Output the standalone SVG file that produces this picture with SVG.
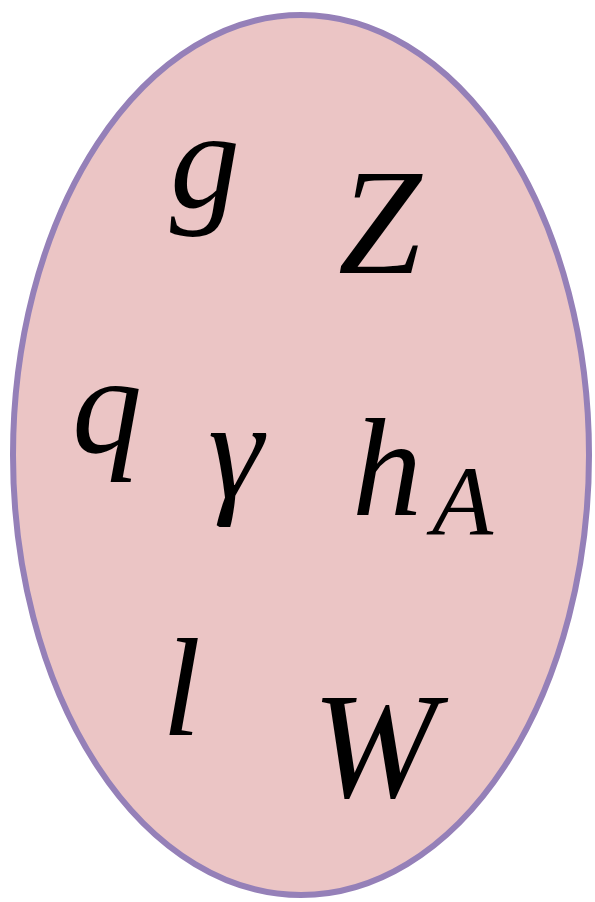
<svg xmlns="http://www.w3.org/2000/svg" width="595" height="902" viewBox="0 0 595 902">
<style>
.m{font-family:"Liberation Serif","Times New Roman",serif;font-style:italic;fill:#000;font-size:140px}
.c{font-size:150px}
.s{font-family:"Liberation Serif","Times New Roman",serif;font-style:italic;fill:#000;font-size:100px}
</style>
<rect width="595" height="902" fill="#fff"/>
<g id="set">
<ellipse cx="301" cy="455" rx="288" ry="440" fill="#ebc5c5" stroke="#9580b8" stroke-width="6"/>
</g>
<g id="g"><text class="m" x="170" y="207">g</text></g>
<g id="Z"><text class="m c" x="338" y="273">Z</text></g>
<g id="q"><text class="m" x="72" y="452">q</text></g>
<g id="gamma"><text class="m" x="208" y="497">γ</text></g>
<g id="hA"><text class="m" x="352" y="515">h</text><text class="s" x="432" y="535">A</text></g>
<g id="l"><text class="m" x="162" y="735">l</text></g>
<g id="W"><text class="m c" x="312" y="797">W</text></g>
</svg>
